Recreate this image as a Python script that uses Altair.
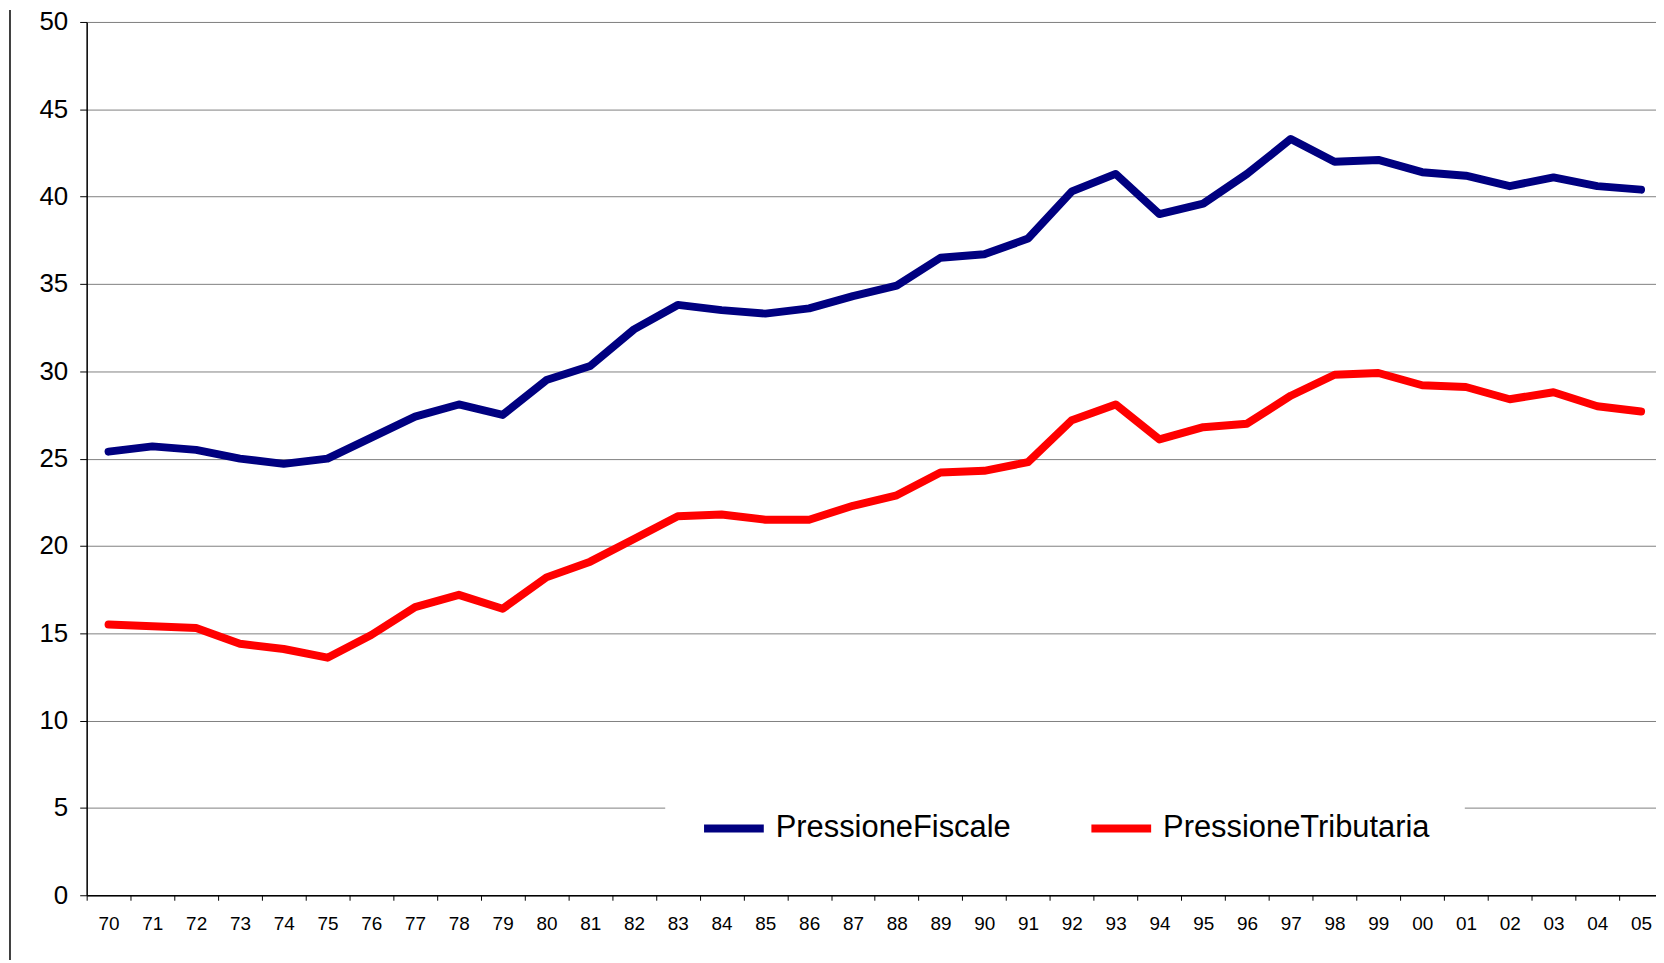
import altair as alt
import pandas as pd

anni = ["70", "71", "72", "73", "74", "75", "76", "77", "78", "79",
        "80", "81", "82", "83", "84", "85", "86", "87", "88", "89",
        "90", "91", "92", "93", "94", "95", "96", "97", "98", "99",
        "00", "01", "02", "03", "04", "05"]

pressione_fiscale = [25.4, 25.7, 25.5, 25.0, 24.7, 25.0, 26.2, 27.4, 28.1, 27.5,
                     29.5, 30.3, 32.4, 33.8, 33.5, 33.3, 33.6, 34.3, 34.9, 36.5,
                     36.7, 37.6, 40.3, 41.3, 39.0, 39.6, 41.3, 43.3, 42.0, 42.1,
                     41.4, 41.2, 40.6, 41.1, 40.6, 40.4]

pressione_tributaria = [15.5, 15.4, 15.3, 14.4, 14.1, 13.6, 14.9, 16.5, 17.2, 16.4,
                        18.2, 19.1, 20.4, 21.7, 21.8, 21.5, 21.5, 22.3, 22.9, 24.2,
                        24.3, 24.8, 27.2, 28.1, 26.1, 26.8, 27.0, 28.6, 29.8, 29.9,
                        29.2, 29.1, 28.4, 28.8, 28.0, 27.7]

serie_nomi = ["PressioneFiscale", "PressioneTributaria"]
serie_colori = ["#000080", "#FF0000"]
y_ticks = [0, 5, 10, 15, 20, 25, 30, 35, 40, 45, 50]

df = pd.DataFrame({
    "anno": anni * 2,
    "valore": pressione_fiscale + pressione_tributaria,
    "serie": [serie_nomi[0]] * len(anni) + [serie_nomi[1]] * len(anni),
})

FONT = "Liberation Sans"
W = 1583
H = 877

lines = alt.Chart(df).mark_line(
    strokeWidth=8, strokeJoin="round", strokeCap="round"
).encode(
    x=alt.X(
        "anno:N",
        sort=anni,
        bandPosition=0.5,
        scale=alt.Scale(type="band", paddingInner=0, paddingOuter=0),
        axis=alt.Axis(
            title=None, labelAngle=0, tickBand="extent", grid=False,
            labelFontSize=19, labelFont=FONT, labelColor="black",
            labelPadding=14, tickSize=5, tickColor="black",
            domainColor="black", domainWidth=1.5,
        ),
    ),
    y=alt.Y(
        "valore:Q",
        scale=alt.Scale(domain=[0, 50], nice=False),
        axis=alt.Axis(
            title=None, values=y_ticks, grid=True, gridColor="#808080",
            gridWidth=1, labelFontSize=26, labelFont=FONT, labelColor="black",
            labelPadding=12, tickSize=7, tickColor="black",
            domainColor="black", domainWidth=1.5,
        ),
    ),
    color=alt.Color(
        "serie:N",
        scale=alt.Scale(domain=serie_nomi, range=serie_colori),
        legend=alt.Legend(
            title=None, orient="none", legendX=581, legendY=741,
            direction="horizontal", fillColor="white", padding=35,
            symbolType="stroke", symbolSize=3600, symbolStrokeWidth=8,
            labelFontSize=31, labelFont=FONT, labelColor="black",
            labelOffset=8, columnPadding=64, labelLimit=500,
        ),
    ),
)

border = alt.Chart(pd.DataFrame({"k": [0]})).mark_rule(
    color="black", strokeWidth=1.5
).encode(
    x=alt.value(-77), y=alt.value(-12), y2=alt.value(H + 70)
)

chart = alt.layer(lines, border).properties(
    width=W, height=H,
    autosize=alt.AutoSizeParams(type="none"),
    padding={"left": 79, "top": 12, "right": -7, "bottom": 63},
).configure_view(strokeWidth=0).configure(background="white")

chart.save("out.html", embed_options={"renderer": "svg", "actions": False})
